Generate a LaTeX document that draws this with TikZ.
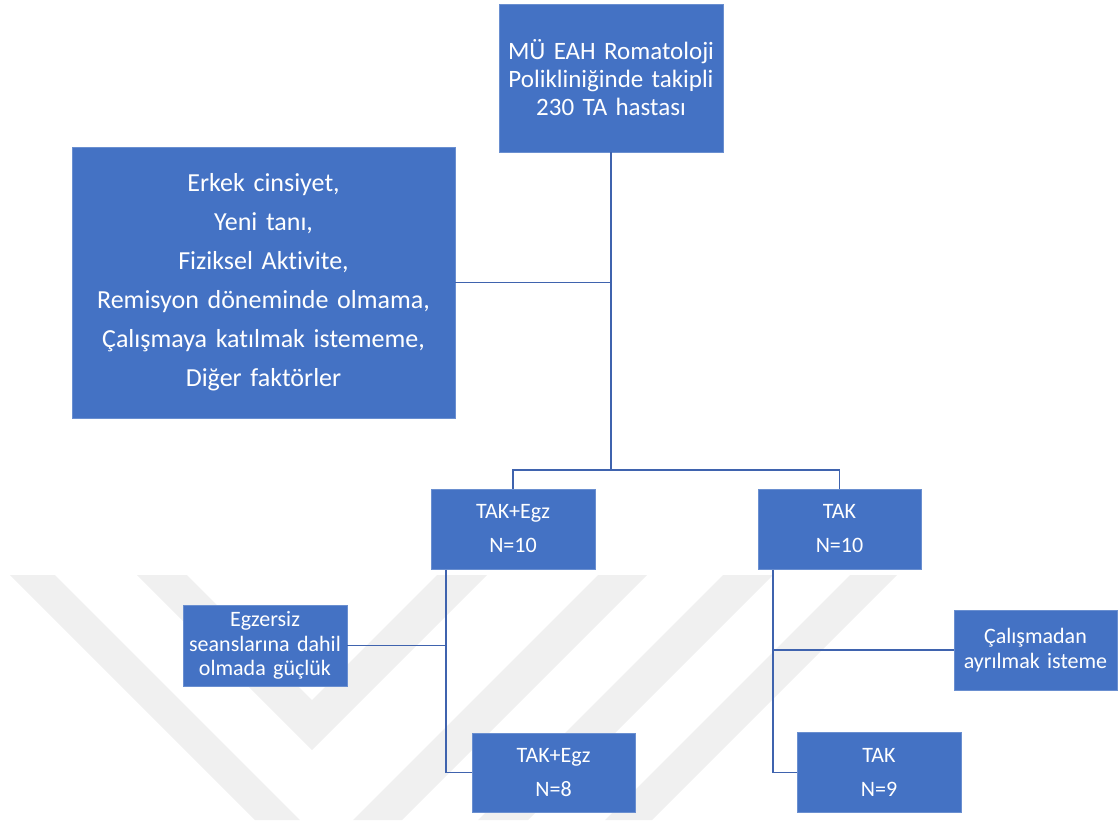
\documentclass[tikz,border=0pt]{standalone}
\usepackage{fontspec}
\setmainfont{Carlito}[Ligatures=NoCommon]
\definecolor{boxblue}{HTML}{4472C4}
\definecolor{boxedge}{HTML}{6A8FD0}
\definecolor{linkblue}{HTML}{3F63AE}
\definecolor{wm}{HTML}{F0F0F0}
\begin{document}
\begin{tikzpicture}[x=1pt,y=-1pt,
  bx/.style={fill=boxblue,draw=boxedge,line width=0.6pt,text=white,inner sep=0pt,align=center},
  link/.style={draw=linkblue,line width=1.6pt},
  band/.style={fill=wm,draw=none}]
\useasboundingbox (0,0) rectangle (1120,820);
% watermark
\fill[band] (10,575) -- (55,575) -- (300,820) -- (255,820) -- cycle;
\fill[band] (137,575) -- (187,575) -- (312,700) -- (437,575) -- (487,575) -- (312,750) -- cycle;
\fill[band] (598,575) -- (647,575) -- (402,820) -- (353,820) -- cycle;
\fill[band] (723,575) -- (773,575) -- (528,820) -- (478,820) -- cycle;
\fill[band] (850,575) -- (897,575) -- (652,820) -- (605,820) -- cycle;
% boxes
\node[bx,minimum width=224pt,minimum height=148pt,text width=220pt,font=\fontsize{25}{28}\selectfont] (top) at (611,78)
  {MÜ EAH Romatoloji\\Polikliniğinde takipli\\230 TA hastası};
\node[bx,minimum width=383pt,minimum height=271pt,text width=379pt,font=\fontsize{26}{39}\selectfont] (big) at (263.5,282.5)
  {Erkek cinsiyet,\\Yeni tanı,\\Fiziksel Aktivite,\\Remisyon döneminde olmama,\\Çalışmaya katılmak istememe,\\Diğer faktörler};
\node[bx,minimum width=164pt,minimum height=80pt,text width=160pt,font=\fontsize{22}{34}\selectfont] (g1) at (513,529)
  {TAK+Egz\\N=10};
\node[bx,minimum width=163pt,minimum height=80pt,text width=159pt,font=\fontsize{22}{34}\selectfont] (g2) at (839.5,529)
  {TAK\\N=10};
\node[bx,minimum width=164pt,minimum height=81pt,text width=162pt,font=\fontsize{22}{24.5}\selectfont] (egz) at (265,645.5)
  {Egzersiz\\seanslarına dahil\\olmada güçlük};
\node[bx,minimum width=163pt,minimum height=80pt,text width=161pt,font=\fontsize{22}{25}\selectfont] (cal) at (1035.5,650)
  {Çalışmadan\\ayrılmak isteme};
\node[bx,minimum width=163pt,minimum height=79pt,text width=159pt,font=\fontsize{22}{34}\selectfont] (g1b) at (553.5,772.5)
  {TAK+Egz\\N=8};
\node[bx,minimum width=164pt,minimum height=80pt,text width=160pt,font=\fontsize{22}{34}\selectfont] (g2b) at (879,772.5)
  {TAK\\N=9};
% connectors
\coordinate (split) at (611,470);
\coordinate (l0) at (446,569.5);
\coordinate (r0) at (773,569.5);
\draw[link] (top.south) -- (split);
\draw[link] (big.east) -- (big.east -| top.south);
\draw[link] (g1.north) |- (split) -| (g2.north);
\draw[link] (l0) |- (g1b.west);
\draw[link] (egz.east) -- (egz.east -| l0);
\draw[link] (r0) |- (g2b.west);
\draw[link] (cal.west) -- (cal.west -| r0);
\end{tikzpicture}
\end{document}
